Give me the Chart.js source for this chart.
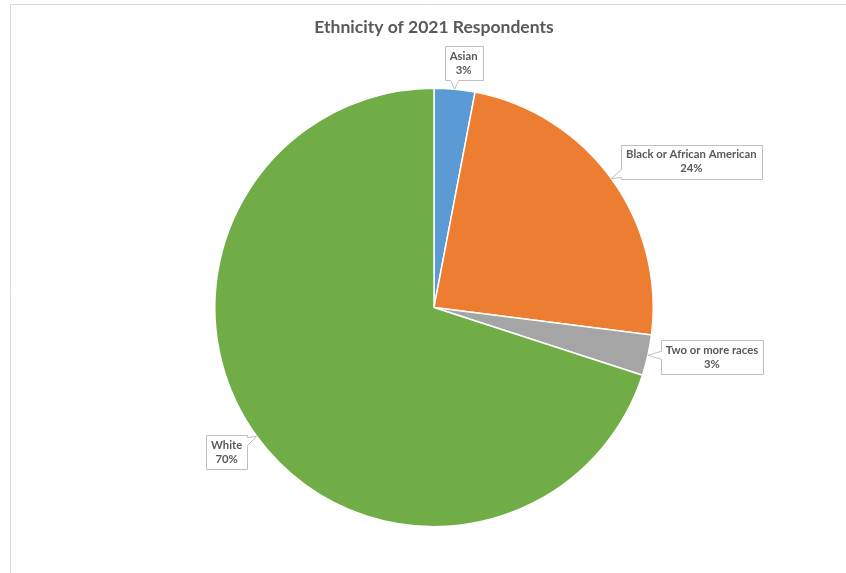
<!DOCTYPE html>
<html>
<head>
<meta charset="utf-8">
<script src="https://cdn.jsdelivr.net/npm/chart.js@4/dist/chart.umd.min.js"></script>
<style>
  html, body { margin: 0; padding: 0; background: #fff; }
  #wrap { position: relative; width: 846px; height: 573px; }
</style>
</head>
<body>
<div id="wrap"><canvas id="c" width="846" height="573"></canvas></div>
<script>
const categories = ['Asian', 'Black or African American', 'Two or more races', 'White'];
const percentages = [3, 24, 3, 70];
const sliceColors = ['#5B9BD5', '#ED7D31', '#A5A5A5', '#70AD47'];
const chartTitle = 'Ethnicity of 2021 Respondents';

// Where each callout box sits relative to the point on the slice edge (px)
const calloutOffsets = [[9, -26], [80, -17], [64, 2], [-30, 16]];

const textColor = '#595959';
const labelFont = 'bold 11.3px Lato';

// Light frame around the chart region
const framePlugin = {
  id: 'frame',
  beforeDraw(chart) {
    const ctx = chart.ctx;
    ctx.save();
    ctx.strokeStyle = '#d9d9d9';
    ctx.lineWidth = 1;
    ctx.beginPath();
    ctx.moveTo(10.5, chart.height);
    ctx.lineTo(10.5, 4.5);
    ctx.lineTo(chart.width, 4.5);
    ctx.stroke();
    ctx.restore();
  }
};

// Callout data labels: a box with a pointer reaching the slice edge
const calloutPlugin = {
  id: 'callouts',
  afterDatasetsDraw(chart) {
    const ctx = chart.ctx;
    const meta = chart.getDatasetMeta(0);
    ctx.save();
    ctx.font = labelFont;
    meta.data.forEach((arc, i) => {
      const p = arc.getProps(['x', 'y', 'startAngle', 'endAngle', 'outerRadius'], true);
      const mid = (p.startAngle + p.endAngle) / 2;
      const tx = p.x + Math.cos(mid) * p.outerRadius;
      const ty = p.y + Math.sin(mid) * p.outerRadius;
      const lines = [categories[i], percentages[i] + '%'];
      const w = Math.max(...lines.map(s => ctx.measureText(s).width)) + 10;
      const h = 34;
      const cx = tx + calloutOffsets[i][0];
      const cy = ty + calloutOffsets[i][1];
      const l = Math.round(cx - w / 2) + 0.5, r = Math.round(cx + w / 2) + 0.5;
      const t = Math.round(cy - h / 2) + 0.5, b = Math.round(cy + h / 2) + 0.5;

      // pick the side the pointer leaves from
      const out = {
        left: l - tx, right: tx - r, top: t - ty, bottom: ty - b
      };
      let side = 'bottom', best = -Infinity;
      for (const k in out) { if (out[k] > best) { best = out[k]; side = k; } }
      const hw = 4;
      const clamp = (v, a, z) => Math.max(a, Math.min(z, v));

      ctx.beginPath();
      ctx.moveTo(l, t);
      if (side === 'top') {
        const m = clamp(tx, l + 6, r - 6);
        ctx.lineTo(m - hw, t); ctx.lineTo(tx, ty); ctx.lineTo(m + hw, t);
      }
      ctx.lineTo(r, t);
      if (side === 'right') {
        const m = clamp(ty, t + 6, b - 6);
        ctx.lineTo(r, m - hw); ctx.lineTo(tx, ty); ctx.lineTo(r, m + hw);
      }
      ctx.lineTo(r, b);
      if (side === 'bottom') {
        const m = clamp(tx, l + 6, r - 6);
        ctx.lineTo(m + hw, b); ctx.lineTo(tx, ty); ctx.lineTo(m - hw, b);
      }
      ctx.lineTo(l, b);
      if (side === 'left') {
        const m = clamp(ty, t + 6, b - 6);
        ctx.lineTo(l, m + hw); ctx.lineTo(tx, ty); ctx.lineTo(l, m - hw);
      }
      ctx.closePath();
      ctx.fillStyle = '#ffffff';
      ctx.fill();
      ctx.strokeStyle = '#bfbfbf';
      ctx.lineWidth = 1;
      ctx.stroke();

      ctx.fillStyle = textColor;
      ctx.textAlign = 'center';
      ctx.textBaseline = 'middle';
      ctx.fillText(lines[0], cx, cy - 7);
      ctx.fillText(lines[1], cx, cy + 7);
    });
    ctx.restore();
  }
};

new Chart(document.getElementById('c'), {
  type: 'pie',
  data: {
    labels: categories,
    datasets: [{
      data: percentages,
      backgroundColor: sliceColors,
      borderColor: '#ffffff',
      borderWidth: 1.5
    }]
  },
  options: {
    responsive: false,
    animation: false,
    layout: { padding: { left: 22, right: 0, top: 0, bottom: 45.6 } },
    plugins: {
      legend: { display: false },
      tooltip: { enabled: false },
      title: {
        display: true,
        text: chartTitle,
        color: textColor,
        font: { family: 'Lato', size: 17.5, weight: 'bold' },
        padding: { top: 16.5, bottom: 50 }
      }
    }
  },
  plugins: [framePlugin, calloutPlugin]
});
</script>
</body>
</html>
